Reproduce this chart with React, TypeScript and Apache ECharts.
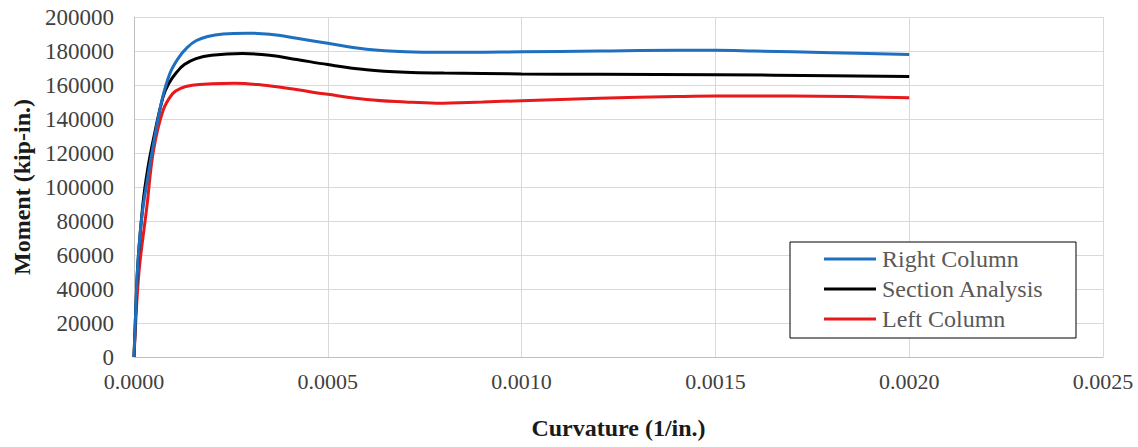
import React, { useEffect, useRef } from "react";
import * as echarts from "echarts";

const xTicks = { min: 0, max: 0.0025, interval: 0.0005 };
const yTicks = { min: 0, max: 200000, interval: 20000 };

const seriesNames = ["Right Column", "Section Analysis", "Left Column"];

const rightColumn: [number, number][] = [
  [0, 0], [0.000005, 30000], [0.00001, 55000], [0.00002, 82000], [0.000035, 105000],
  [0.00005, 125000], [0.000072, 151000], [0.000093, 167000], [0.000115, 176000],
  [0.000137, 182000], [0.00016, 186000], [0.00019, 188500], [0.00023, 190000],
  [0.00029, 190500], [0.00035, 189800], [0.00042, 187500], [0.0005, 184500],
  [0.0006, 181000], [0.0007, 179500], [0.0008, 179200], [0.0009, 179300],
  [0.001, 179500], [0.0012, 180000], [0.0014, 180400], [0.0015, 180400],
  [0.0016, 180000], [0.0018, 179000], [0.002, 178000],
];

const sectionAnalysis: [number, number][] = [
  [0, 0], [0.000005, 30000], [0.00001, 55000], [0.000023, 90000], [0.000035, 110000],
  [0.00005, 128000], [0.000075, 153000], [0.00009, 161000], [0.00011, 167500],
  [0.00013, 172000], [0.00016, 175500], [0.0002, 177500], [0.00028, 178500],
  [0.00035, 177500], [0.00042, 175000], [0.0005, 172000], [0.0006, 169000],
  [0.0007, 167500], [0.0008, 167000], [0.001, 166500], [0.0012, 166300],
  [0.0015, 166000], [0.0018, 165500], [0.002, 165000],
];

const leftColumn: [number, number][] = [
  [0, 0], [0.000003, 14000], [0.000008, 35000], [0.000015, 55000], [0.000033, 88000],
  [0.00005, 121000], [0.000075, 145000], [0.0001, 155000], [0.00012, 158000],
  [0.00015, 159800], [0.0002, 160700], [0.00026, 161000], [0.00033, 160000],
  [0.0004, 158000], [0.0005, 154500], [0.0006, 151500], [0.0007, 150000],
  [0.00078, 149300], [0.0009, 150000], [0.001, 150800], [0.0012, 152200],
  [0.0014, 153200], [0.0015, 153500], [0.0017, 153500], [0.0019, 153000],
  [0.002, 152500],
];

const colors = ["#1f6fbf", "#000000", "#e8191b"];
const FONT = "'Liberation Serif', 'Times New Roman', serif";

export default function App() {
  const ref = useRef<HTMLDivElement>(null);
  useEffect(() => {
    document.body.style.margin = "0";
    if (!ref.current) return;
    const chart = echarts.init(ref.current, undefined, { renderer: "svg" });
    const datasets = [rightColumn, sectionAnalysis, leftColumn];
    chart.setOption({
      animation: false,
      backgroundColor: "#ffffff",
      textStyle: { fontFamily: FONT },
      grid: { left: 134, right: 35, top: 17, bottom: 90, containLabel: false, outerBoundsMode: "none" },
      legend: {
        orient: "vertical",
        left: 790,
        top: 242,
        padding: [5, 32, 7, 34],
        itemGap: 6,
        itemWidth: 52,
        itemHeight: 3,
        icon: "rect",
        borderColor: "#000",
        borderWidth: 1,
        backgroundColor: "#fff",
        textStyle: { fontFamily: FONT, fontSize: 24, color: "#595959", lineHeight: 24, padding: [0, 0, 0, 1] },
        data: seriesNames,
      },
      xAxis: {
        type: "value",
        min: xTicks.min,
        max: xTicks.max,
        interval: xTicks.interval,
        name: "Curvature (1/in.)",
        nameLocation: "middle",
        nameGap: 59,
        nameTextStyle: { fontFamily: FONT, fontSize: 24, fontWeight: "bold", color: "#1a1a1a" },
        axisLine: { show: true, lineStyle: { color: "#bfbfbf" } },
        axisTick: { show: false },
        axisLabel: {
          fontFamily: FONT, fontSize: 22, color: "#404040", margin: 13,
          formatter: (v: number) => v.toFixed(4),
        },
        splitLine: { show: true, lineStyle: { color: "#d9d9d9" } },
      },
      yAxis: {
        type: "value",
        min: yTicks.min,
        max: yTicks.max,
        interval: yTicks.interval,
        name: "Moment (kip-in.)",
        nameLocation: "middle",
        nameGap: 96,
        nameTextStyle: { fontFamily: FONT, fontSize: 24, fontWeight: "bold", color: "#1a1a1a" },
        axisLine: { show: true, lineStyle: { color: "#bfbfbf" } },
        axisTick: { show: false },
        axisLabel: {
          fontFamily: FONT, fontSize: 23, color: "#404040", margin: 20,
          formatter: (v: number) => String(v),
        },
        splitLine: { show: true, lineStyle: { color: "#d9d9d9" } },
      },
      series: datasets.map((d, i) => ({
        name: seriesNames[i],
        type: "line",
        data: d,
        smooth: 0.4,
        showSymbol: false,
        symbol: "none",
        lineStyle: { color: colors[i], width: 3 },
        itemStyle: { color: colors[i] },
        z: 3 - i,
      })),
    });
    return () => chart.dispose();
  }, []);
  return <div ref={ref} style={{ width: 1138, height: 447 }} />;
}
